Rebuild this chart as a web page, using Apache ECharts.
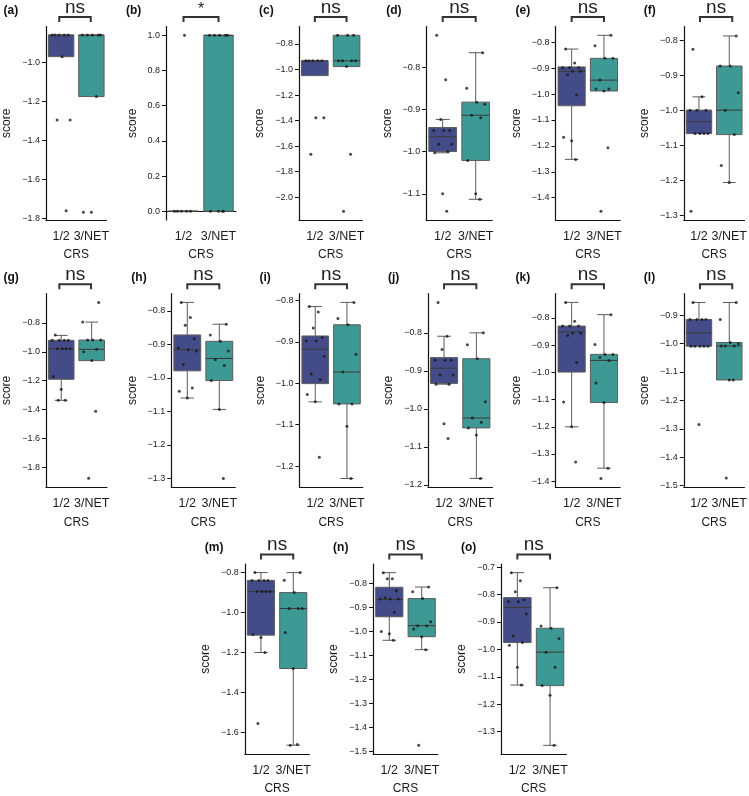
<!DOCTYPE html>
<html>
<head>
<meta charset="utf-8">
<script src="https://cdn.jsdelivr.net/npm/echarts@6/dist/echarts.min.js"></script>
<style>
html,body{margin:0;padding:0;background:#fff;}
#c{width:749px;height:796px;}
</style>
</head>
<body>
<div id="c"></div>
<script>
// ---------------- DATA ----------------
const categories = ['1/2', '3/NET'];
const panelNames = ['(a)','(b)','(c)','(d)','(e)','(f)','(g)','(h)','(i)','(j)','(k)','(l)','(m)','(n)','(o)'];
const sigLabels = ['ns','*','ns','ns','ns','ns','ns','ns','ns','ns','ns','ns','ns','ns','ns'];

// box stats [lowWhisker, Q1, median, Q3, highWhisker]
const box12 = [
  [-0.971,-0.971,-0.86,-0.86,-0.86],
  [0,0,0,0,0],
  [-1.048,-1.048,-0.932,-0.932,-0.932],
  [-1.003,-1.0,-0.965,-0.943,-0.924],
  [-1.252,-1.045,-0.912,-0.895,-0.826],
  [-1.067,-1.067,-1.033,-1.0,-0.962],
  [-1.335,-1.19,-0.979,-0.921,-0.887],
  [-1.06,-0.979,-0.916,-0.872,-0.775],
  [-1.045,-1.001,-0.918,-0.886,-0.815],
  [-0.935,-0.933,-0.893,-0.865,-0.809],
  [-1.2,-0.999,-0.852,-0.83,-0.743],
  [-1.009,-1.009,-0.962,-0.915,-0.855],
  [-1.2,-1.113,-0.895,-0.839,-0.80],
  [-1.037,-0.939,-0.867,-0.816,-0.755],
  [-1.13,-0.975,-0.847,-0.811,-0.72]
];
const boxNet = [
  [-1.176,-1.176,-0.86,-0.86,-0.86],
  [0,0,1,1,1],
  [-0.977,-0.977,-0.932,-0.732,-0.732],
  [-1.113,-1.021,-0.914,-0.883,-0.766],
  [-0.988,-0.988,-0.946,-0.862,-0.773],
  [-1.207,-1.07,-1.0,-0.874,-0.788],
  [-1.061,-1.061,-0.983,-0.919,-0.795],
  [-1.094,-1.008,-0.942,-0.891,-0.84],
  [-1.23,-1.05,-0.973,-0.859,-0.805],
  [-1.183,-1.05,-1.024,-0.868,-0.80],
  [-1.352,-1.111,-0.956,-0.934,-0.788],
  [-1.128,-1.128,-1.008,-0.996,-0.855],
  [-1.664,-1.28,-0.98,-0.90,-0.80],
  [-1.076,-1.022,-0.976,-0.863,-0.815],
  [-1.35,-1.132,-1.01,-0.923,-0.775]
];
// individual observations
const points12 = [
  [-0.86,-0.86,-0.86,-0.86,-0.86,-0.971,-1.296,-1.296,-1.763],
  [0,0,0,0,0,1.0],
  [-0.932,-0.932,-0.932,-0.932,-0.932,-1.377,-1.377,-1.664],
  [-0.725,-0.830,-0.924,-0.95,-0.95,-0.95,-0.983,-0.983,-1.0,-1.003,-1.10,-1.141],
  [-0.826,-0.88,-0.898,-0.898,-0.898,-0.912,-0.912,-0.925,-1.003,-1.167,-1.18,-1.252],
  [-0.826,-0.962,-1.0,-1.0,-1.0,-1.067,-1.067,-1.067,-1.067,-1.289],
  [-0.885,-0.921,-0.921,-0.921,-0.921,-0.979,-0.979,-0.979,-0.979,-1.17,-1.258,-1.335,-1.335],
  [-0.775,-0.82,-0.843,-0.883,-0.91,-0.916,-0.92,-0.96,-1.03,-1.04,-1.06],
  [-0.815,-0.828,-0.867,-0.89,-0.898,-0.898,-0.935,-0.978,-0.991,-1.027,-1.045,-1.179],
  [-0.72,-0.809,-0.844,-0.872,-0.872,-0.872,-0.911,-0.911,-0.935,-0.935,-1.039,-1.078],
  [-0.743,-0.812,-0.83,-0.83,-0.83,-0.855,-0.855,-0.865,-0.964,-1.109,-1.2,-1.329],
  [-0.855,-0.915,-0.915,-0.915,-0.915,-1.009,-1.009,-1.009,-1.009,-1.009,-1.285],
  [-0.80,-0.839,-0.839,-0.839,-0.839,-0.895,-0.895,-0.895,-0.895,-1.11,-1.125,-1.2,-1.555],
  [-0.755,-0.78,-0.78,-0.83,-0.865,-0.865,-0.865,-0.86,-0.92,-1.0,-1.01,-1.037],
  [-0.72,-0.75,-0.79,-0.82,-0.825,-0.825,-0.87,-0.95,-0.975,-0.985,-1.065,-1.13]
];
const pointsNet = [
  [-0.86,-0.86,-0.86,-0.86,-0.86,-1.176,-1.77,-1.77],
  [1,1,1,1,1,0,0,0,0],
  [-0.732,-0.732,-0.732,-0.932,-0.932,-0.932,-0.932,-0.977,-1.664,-2.11],
  [-0.766,-0.850,-0.883,-0.888,-0.914,-0.92,-1.021,-1.10,-1.113],
  [-0.773,-0.813,-0.862,-0.862,-0.946,-0.98,-0.98,-0.988,-1.207,-1.452],
  [-0.788,-0.874,-0.874,-0.95,-1.0,-1.07,-1.158,-1.207],
  [-0.66,-0.795,-0.919,-0.919,-0.919,-0.983,-1.0,-1.061,-1.411,-1.874],
  [-0.84,-0.872,-0.891,-0.92,-0.945,-0.963,-1.008,-1.094,-1.30],
  [-0.805,-0.844,-0.859,-0.93,-0.973,-1.05,-1.05,-1.104,-1.23],
  [-0.80,-0.831,-0.868,-0.981,-1.024,-1.035,-1.05,-1.069,-1.183],
  [-0.788,-0.898,-0.934,-0.934,-0.945,-0.956,-1.039,-1.111,-1.352,-1.39],
  [-0.855,-0.915,-0.996,-1.0,-1.008,-1.008,-1.008,-1.128,-1.128,-1.474],
  [-0.80,-0.838,-0.90,-0.98,-0.98,-0.98,-1.10,-1.28,-1.66,-1.664],
  [-0.815,-0.835,-0.863,-0.96,-0.976,-0.976,-0.99,-1.022,-1.076,-1.475],
  [-0.775,-0.915,-0.923,-0.96,-1.01,-1.065,-1.132,-1.167,-1.35]
];
// y axis ranges and tick labels
const yMin = [-1.81,-0.05,-2.179,-1.162,-1.486,-1.314,-1.935,-1.326,-1.251,-1.206,-1.422,-1.506,-1.708,-1.511,-1.3815];
const yMax = [-0.816,1.05,-0.663,-0.704,-0.739,-0.761,-0.599,-0.749,-0.784,-0.697,-0.711,-0.824,-0.757,-0.719,-0.6885];
const yTicks = [
  [-1.8,-1.6,-1.4,-1.2,-1.0],
  [0,0.2,0.4,0.6,0.8,1.0],
  [-2.0,-1.8,-1.6,-1.4,-1.2,-1.0,-0.8],
  [-1.1,-1.0,-0.9,-0.8],
  [-1.4,-1.3,-1.2,-1.1,-1.0,-0.9,-0.8],
  [-1.3,-1.2,-1.1,-1.0,-0.9,-0.8],
  [-1.8,-1.6,-1.4,-1.2,-1.0,-0.8],
  [-1.3,-1.2,-1.1,-1.0,-0.9,-0.8],
  [-1.2,-1.1,-1.0,-0.9,-0.8],
  [-1.2,-1.1,-1.0,-0.9,-0.8],
  [-1.4,-1.3,-1.2,-1.1,-1.0,-0.9,-0.8],
  [-1.5,-1.4,-1.3,-1.2,-1.1,-1.0,-0.9],
  [-1.6,-1.4,-1.2,-1.0,-0.8],
  [-1.5,-1.4,-1.3,-1.2,-1.1,-1.0,-0.9,-0.8],
  [-1.3,-1.2,-1.1,-1.0,-0.9,-0.8,-0.7]
];

// ---------------- LAYOUT / STYLE ----------------
const gridLeft  = [43.5,166,299,426.2,555.5,683.8, 43.5,171.3,299.4,427.9,555.5,683.8, 244.8,373.1,501];
const gridWidth = [63,70,63.4,66,64.6,64.6, 63.4,64,63.4,64.6,64.6,64.6, 64.6,64.8,65.4];
const gridRow   = [0,0,0,0,0,0, 1,1,1,1,1,1, 2,2,2];
const rowTop    = [26.5, 293.7, 564];
const plotH     = 193.5;
const yNameGap  = [33,27,33,33,33,33, 33,33,33,33,33,33, 33,33,33];
const fillColors = ['#434b89', '#3c9994'];
const edgeColor = '#5c5c5c';
const FONT = "'Liberation Sans', Arial, Helvetica, sans-serif";
const jitter = [-6, 3, -2, 7, -9, 1, 9, -4, 5, -8, 0, 4, -3, 8];

const fmt = v => (v < 0 ? '\u2212' : '') + Math.abs(v).toFixed(1);

const grids = [], xAxes = [], yAxes = [], series = [], graphics = [];

panelNames.forEach((name, i) => {
  const top = rowTop[gridRow[i]];
  const left = gridLeft[i], w = gridWidth[i];
  grids.push({left: left, top: top, width: w, height: plotH, containLabel: false});
  xAxes.push({
    type: 'category', gridIndex: i, data: categories, boundaryGap: true,
    axisLine: {lineStyle: {color: '#111', width: 1.2}},
    axisTick: {alignWithLabel: true, length: 5, lineStyle: {color: '#111', width: 1.2}},
    axisLabel: {fontSize: 12.5, color: '#1a1a1a', margin: 10, fontFamily: FONT, interval: 0},
    name: 'CRS', nameLocation: 'middle', nameGap: 29,
    nameTextStyle: {fontSize: 12, color: '#1a1a1a', fontFamily: FONT},
    splitLine: {show: false}
  });
  yAxes.push({
    type: 'value', gridIndex: i, min: yMin[i], max: yMax[i],
    axisLine: {show: true, lineStyle: {color: '#111', width: 1.2}},
    axisTick: {show: true, length: 4, customValues: yTicks[i], lineStyle: {color: '#111', width: 1}},
    axisLabel: {fontSize: 9, color: '#222', margin: 6, fontFamily: FONT, customValues: yTicks[i], formatter: fmt},
    splitLine: {show: false},
    name: 'score', nameLocation: 'middle', nameGap: yNameGap[i], nameRotate: 90,
    nameTextStyle: {fontSize: 12, color: '#1a1a1a', fontFamily: FONT}
  });

  // boxes
  series.push({
    type: 'custom', xAxisIndex: i, yAxisIndex: i, z: 2,
    encode: {x: 0, y: [1,2,3,4,5]},
    data: [[0].concat(box12[i]), [1].concat(boxNet[i])],
    renderItem: function (params, api) {
      const cat = api.value(0);
      const bw = api.size([1, 0])[0] * 0.84;
      const p = k => api.coord([cat, api.value(k)]);
      const lo = p(1), q1 = p(2), md = p(3), q3 = p(4), hi = p(5);
      const x = lo[0];
      const ls = {stroke: edgeColor, lineWidth: 1};
      const cap = bw / 4;
      const children = [];
      if (hi[1] < q3[1] - 0.5) {
        children.push({type: 'line', shape: {x1: x, y1: q3[1], x2: x, y2: hi[1]}, style: ls});
        children.push({type: 'line', shape: {x1: x - cap, y1: hi[1], x2: x + cap, y2: hi[1]}, style: ls});
      }
      if (lo[1] > q1[1] + 0.5) {
        children.push({type: 'line', shape: {x1: x, y1: q1[1], x2: x, y2: lo[1]}, style: ls});
        children.push({type: 'line', shape: {x1: x - cap, y1: lo[1], x2: x + cap, y2: lo[1]}, style: ls});
      }
      children.push({type: 'rect', shape: {x: x - bw / 2, y: q3[1], width: bw, height: Math.max(q1[1] - q3[1], 0)},
        style: {fill: fillColors[cat], stroke: edgeColor, lineWidth: 1}});
      children.push({type: 'line', shape: {x1: x - bw / 2, y1: md[1], x2: x + bw / 2, y2: md[1]}, style: {stroke: '#3a3a3a', lineWidth: 1}});
      return {type: 'group', children: children};
    }
  });

  // points
  const pts = [];
  points12[i].forEach((v, k) => pts.push({value: [0, v], symbolOffset: [jitter[k % jitter.length], 0]}));
  pointsNet[i].forEach((v, k) => pts.push({value: [1, v], symbolOffset: [jitter[(k + 3) % jitter.length], 0]}));
  series.push({
    type: 'scatter', xAxisIndex: i, yAxisIndex: i, z: 5,
    symbol: 'circle', symbolSize: 3, itemStyle: {color: '#1a1a1a'},
    silent: true, data: pts
  });

  // annotations: panel letter, significance bracket
  const c1 = left + w / 4, c2 = left + 3 * w / 4;
  graphics.push({type: 'text', left: left - 40, top: top - 22,
    style: {text: name, font: 'bold 12px ' + FONT, fill: '#111'}});
  const sig = sigLabels[i];
  graphics.push({type: 'text', x: (c1 + c2) / 2, y: sig === '*' ? top - 17 : top - 19,
    style: {text: sig, font: (sig === '*' ? '16px ' : '19px ') + FONT, fill: '#222', align: 'center', verticalAlign: 'middle'}});
  graphics.push({type: 'polyline', shape: {points: [[c1, top - 4.5], [c1, top - 9.5], [c2, top - 9.5], [c2, top - 4.5]]},
    style: {stroke: '#333', lineWidth: 2, fill: null}});
});

const chart = echarts.init(document.getElementById('c'), null, {renderer: 'canvas'});
chart.setOption({
  animation: false,
  backgroundColor: '#ffffff',
  grid: grids, xAxis: xAxes, yAxis: yAxes, series: series,
  graphic: graphics
});
</script>
</body>
</html>
